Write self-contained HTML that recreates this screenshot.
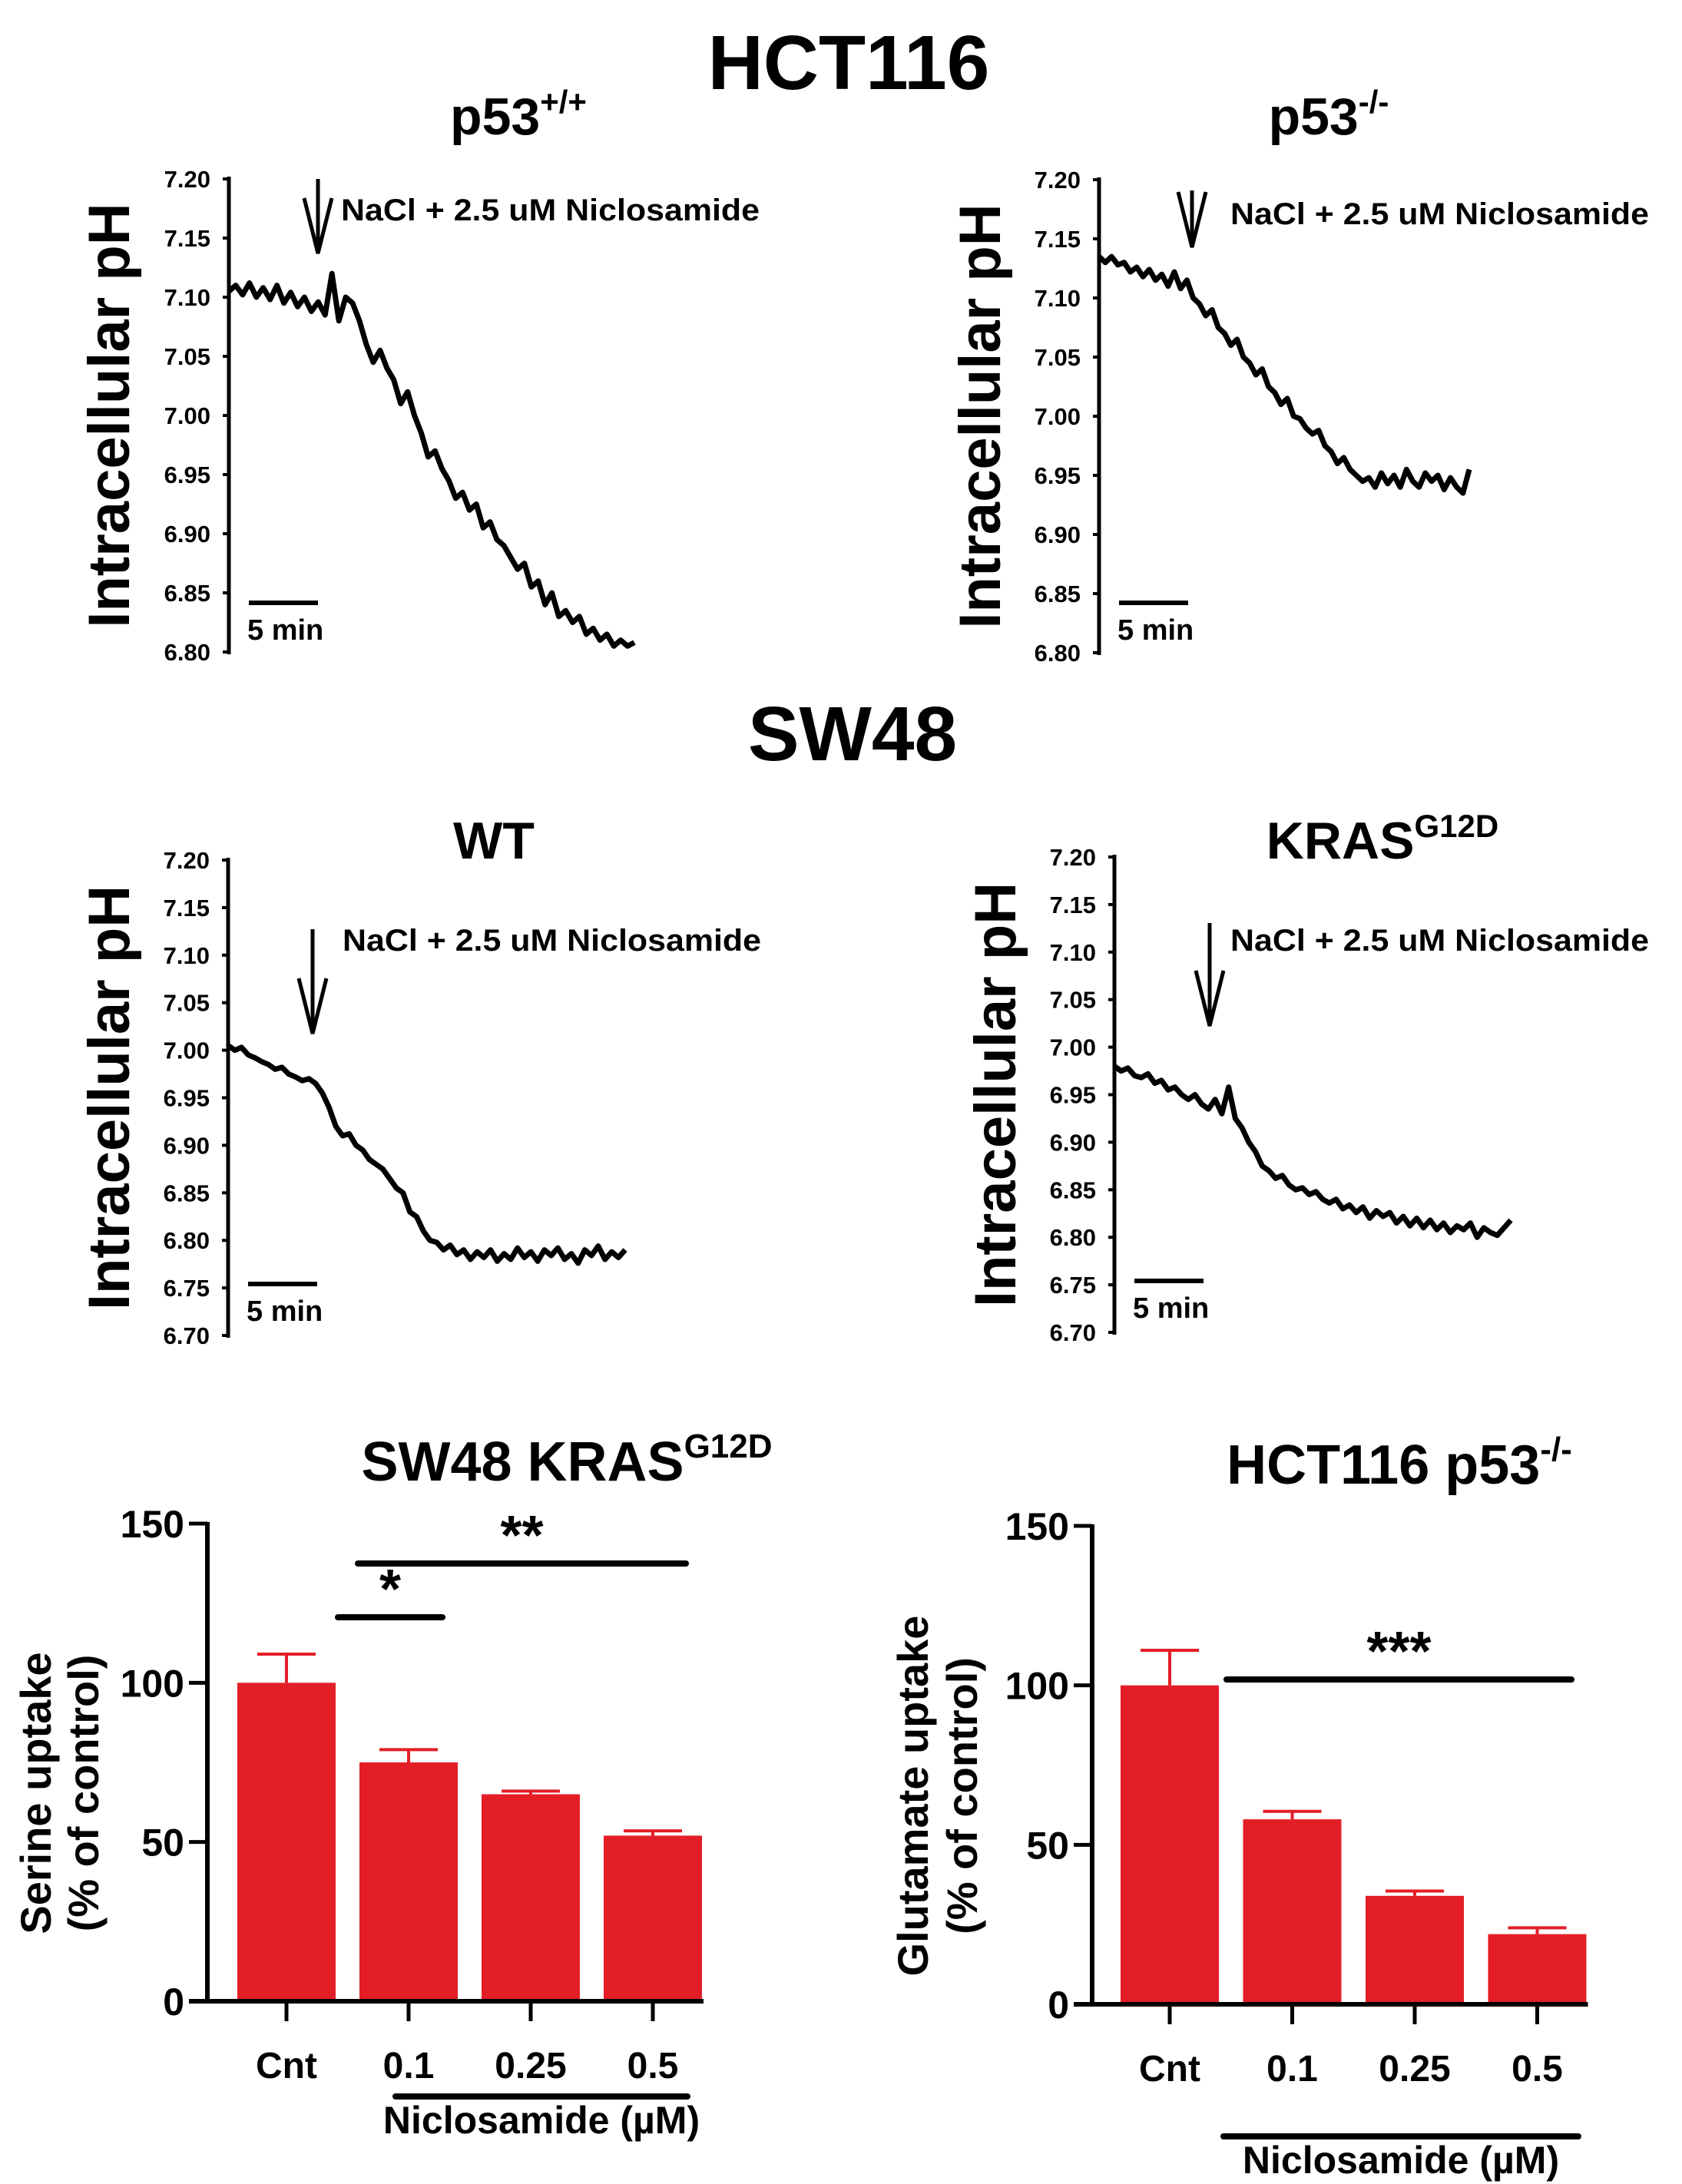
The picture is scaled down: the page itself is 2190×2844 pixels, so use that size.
<!DOCTYPE html>
<html><head><meta charset="utf-8"><style>
html,body{margin:0;padding:0;background:#fff;}
svg{display:block;font-family:"Liberation Sans",Arial,sans-serif;font-weight:bold;}
</style></head><body>
<svg id="fig" width="2190" height="2844" viewBox="0 0 2190 2844" xmlns="http://www.w3.org/2000/svg"></svg>
<script>
// ---- trace data (pH values, evenly sampled over time) ----
const traceA = [7.105,7.11,7.102,7.112,7.10,7.108,7.098,7.11,7.095,7.104,7.092,7.10,7.088,7.096,7.085,7.12,7.08,7.10,7.095,7.08,7.06,7.045,7.055,7.04,7.03,7.01,7.02,7.0,6.985,6.965,6.97,6.955,6.945,6.93,6.935,6.92,6.925,6.905,6.91,6.895,6.89,6.88,6.87,6.875,6.855,6.86,6.84,6.85,6.83,6.835,6.825,6.83,6.815,6.82,6.81,6.815,6.805,6.81,6.805,6.808];
const traceB = [7.135,7.13,7.135,7.128,7.13,7.122,7.126,7.118,7.124,7.115,7.12,7.11,7.122,7.108,7.115,7.10,7.095,7.085,7.09,7.075,7.07,7.06,7.065,7.05,7.045,7.035,7.04,7.025,7.02,7.01,7.015,7.0,6.998,6.99,6.985,6.988,6.975,6.97,6.96,6.965,6.955,6.95,6.945,6.948,6.94,6.952,6.943,6.95,6.94,6.955,6.945,6.94,6.952,6.945,6.95,6.938,6.948,6.94,6.935,6.955];
const traceC = [7.005,7.0,7.003,6.995,6.992,6.988,6.985,6.98,6.982,6.975,6.972,6.968,6.97,6.965,6.955,6.94,6.92,6.91,6.912,6.9,6.895,6.885,6.88,6.875,6.865,6.855,6.85,6.83,6.825,6.81,6.8,6.798,6.79,6.795,6.785,6.79,6.78,6.788,6.782,6.79,6.778,6.786,6.78,6.792,6.782,6.788,6.778,6.79,6.784,6.792,6.78,6.786,6.776,6.79,6.784,6.794,6.78,6.788,6.782,6.79];
const traceD = [6.98,6.975,6.978,6.97,6.968,6.972,6.962,6.965,6.955,6.958,6.95,6.945,6.95,6.94,6.935,6.945,6.93,6.958,6.925,6.915,6.9,6.89,6.875,6.87,6.862,6.865,6.855,6.85,6.852,6.845,6.848,6.84,6.836,6.84,6.83,6.834,6.826,6.832,6.82,6.828,6.822,6.826,6.815,6.822,6.812,6.82,6.81,6.818,6.808,6.815,6.805,6.812,6.808,6.815,6.8,6.81,6.805,6.802,6.81,6.818];
const ticksTop = ["7.20","7.15","7.10","7.05","7.00","6.95","6.90","6.85","6.80"];
const ticksBot = ["7.20","7.15","7.10","7.05","7.00","6.95","6.90","6.85","6.80","6.75","6.70"];
// ---- bar data ----
const barCats = ["Cnt","0.1","0.25","0.5"];
const serineVals = [100,75,65,52];
const serineErr = [9,4,1,1.5];
const glutVals = [100,58,34,22];
const glutErr = [11,2.5,1.5,2];
const barTicks = ["0","50","100","150"];

const NS="http://www.w3.org/2000/svg";
const svg=document.getElementById('fig');
function mk(tag,attrs,parent){const e=document.createElementNS(NS,tag);for(const k in attrs)e.setAttribute(k,attrs[k]);(parent||svg).appendChild(e);return e;}
function txt(s,attrs,parent){const e=mk('text',attrs,parent);e.textContent=s;return e;}

let t;
t=txt("HCT116",{x:1105,y:116,'font-size':100,'text-anchor':'middle'});

t=txt("SW48",{x:1110,y:990,'font-size':100,'text-anchor':'middle'});


function tracePanel(o){
  const g=mk('g',{});
  
  const y=v=>o.y0+(o.vmax-v)/(o.vmax-o.vmin)*(o.y1-o.y0);
  const tt=txt(o.title,{x:o.tx,y:o.ty,'font-size':68,'text-anchor':'middle'},g);
  
  if(o.sup){const s=mk('tspan',{'font-size':42,dy:-28},tt);s.textContent=o.sup;}
  const yt=txt("Intracellular pH",{x:0,y:0,'font-size':76,'text-anchor':'middle',transform:`translate(${o.ytx},${(o.y0+o.y1)/2}) rotate(-90)`},g);
  
  const ax=mk('line',{x1:o.ax,y1:o.y0-3,x2:o.ax,y2:o.y1+3,stroke:'#000','stroke-width':5},g);
  
  o.ticks.forEach(l=>{
    const v=parseFloat(l),yy=y(v);
    const tk=mk('line',{x1:o.ax-8,y1:yy,x2:o.ax,y2:yy,stroke:'#000','stroke-width':4},g);
    
    const tl=txt(l,{x:o.ax-24,y:yy+11,'font-size':31,'text-anchor':'end'},g);
    
  });
  const n=o.data.length;
  const pts=o.data.map((v,i)=>`${(o.ax+(o.xe-o.ax)*i/(n-1)).toFixed(1)},${y(v).toFixed(1)}`).join(' ');
  const pl=mk('polyline',{points:pts,fill:'none',stroke:'#000','stroke-width':7,'stroke-linejoin':'round'},g);
  
  const ar=mk('path',{d:`M${o.arx},${o.ary0} L${o.arx},${o.ary1} M${o.arx-18},${o.ary1-72} L${o.arx},${o.ary1} L${o.arx+18},${o.ary1-72}`,fill:'none',stroke:'#000','stroke-width':5},g);
  
  const an=txt("NaCl + 2.5 uM Niclosamide",{x:o.anx,y:o.any,'font-size':40,textLength:545,lengthAdjust:'spacingAndGlyphs'},g);
  
  const sb=mk('line',{x1:o.ax+26,y1:o.sby,x2:o.ax+116,y2:o.sby,stroke:'#000','stroke-width':6},g);
  
  const sl=txt("5 min",{x:o.ax+24,y:o.sby+48,'font-size':38},g);
  
}
tracePanel({name:'panel-hct116-p53wt',title:'p53',sup:'+/+',tx:675,ty:175,ytx:168,ax:298,y0:233,y1:849,vmax:7.20,vmin:6.80,ticks:ticksTop,data:traceA,xe:826,arx:414,ary0:233,ary1:330,anx:444,any:287,sby:785});
tracePanel({name:'panel-hct116-p53ko',title:'p53',sup:'-/-',tx:1730,ty:175,ytx:1302,ax:1431,y0:234,y1:850,vmax:7.20,vmin:6.80,ticks:ticksTop,data:traceB,xe:1913,arx:1552,ary0:248,ary1:322,anx:1602,any:292,sby:785});
tracePanel({name:'panel-sw48-wt',title:'WT',tx:643,ty:1118,ytx:168,ax:297,y0:1120,y1:1739,vmax:7.20,vmin:6.70,ticks:ticksBot,data:traceC,xe:814,arx:407,ary0:1210,ary1:1346,anx:446,any:1238,sby:1672});
tracePanel({name:'panel-sw48-kras',title:'KRAS',sup:'G12D',tx:1800,ty:1118,ytx:1322,ax:1451,y0:1116,y1:1735,vmax:7.20,vmin:6.70,ticks:ticksBot,data:traceD,xe:1967,arx:1575,ary0:1202,ary1:1336,anx:1602,any:1238,sby:1668});

function barPanel(o){
  const g=mk('g',{});
  
  const y=v=>o.y1-(v/150)*(o.y1-o.y0);
  const xc=i=>o.x0+o.step*i;
  const tt=txt(o.title,{x:o.tx,y:o.ty,'font-size':72,'text-anchor':'middle'},g);
  
  const s=mk('tspan',{'font-size':44,dy:-30},tt);s.textContent=o.sup;
  o.ylab.forEach((l,i)=>{
    const yt=txt(l,{x:0,y:0,'font-size':56,'text-anchor':'middle',transform:`translate(${o.ytx[i]},${(o.y0+o.y1)/2+40}) rotate(-90)`},g);
    
  });
  o.vals.forEach((v,i)=>{
    const b=mk('rect',{x:xc(i)-64,y:y(v),width:128,height:o.y1-y(v),fill:'#e31e26'},g);
    
    const e=mk('path',{d:`M${xc(i)},${y(v)} V${y(v+o.err[i])} M${xc(i)-38},${y(v+o.err[i])} H${xc(i)+38}`,stroke:'#e31e26','stroke-width':4,fill:'none'},g);
    
    const tk=mk('line',{x1:xc(i),y1:o.y1,x2:xc(i),y2:o.y1+26,stroke:'#000','stroke-width':5},g);
    
    const tl=txt(barCats[i],{x:xc(i),y:o.y1+100,'font-size':48,'text-anchor':'middle'},g);
    
  });
  const ya=mk('line',{x1:o.ax,y1:o.y0-2,x2:o.ax,y2:o.y1+2,stroke:'#000','stroke-width':6},g);
  
  const xa=mk('line',{x1:o.ax-24,y1:o.y1,x2:xc(3)+66,y2:o.y1,stroke:'#000','stroke-width':6},g);
  
  barTicks.forEach(l=>{
    const yy=y(parseFloat(l));
    const tk=mk('line',{x1:o.ax-24,y1:yy,x2:o.ax,y2:yy,stroke:'#000','stroke-width':5},g);
    
    const tl=txt(l,{x:o.ax-30,y:yy+18,'font-size':50,'text-anchor':'end'},g);
    
  });
  o.sig.forEach(sg=>{
    const ln=mk('line',{x1:sg.x1,y1:sg.y,x2:sg.x2,y2:sg.y,stroke:'#000','stroke-width':8,'stroke-linecap':'round'},g);
    
    const st=txt(sg.s,{x:(sg.x1+sg.x2)/2,y:sg.y-12,'font-size':72,'text-anchor':'middle'},g);
    
  });
  const ul=mk('line',{x1:o.ulx1,y1:o.uly,x2:o.ulx2,y2:o.uly,stroke:'#000','stroke-width':8,'stroke-linecap':'round'},g);
  
  const xl=txt("Niclosamide (\u00B5M)",{x:(o.ulx1+o.ulx2)/2,y:o.uly+48,'font-size':50,'text-anchor':'middle'},g);
  
}
barPanel({name:'serine-uptake-chart',title:'SW48 KRAS',sup:'G12D',tx:738,ty:1928,ytx:[66,128],ylab:['Serine uptake','(% of control)'],ax:270,y0:1984,y1:2606,x0:373,step:159,vals:serineVals,err:serineErr,
  sig:[{x1:440,x2:576,y:2106,s:'*'},{x1:466,x2:893,y:2036,s:'**'}],ulx1:515,ulx2:895,uly:2730});
barPanel({name:'glutamate-uptake-chart',title:'HCT116 p53',sup:'-/-',tx:1822,ty:1932,ytx:[1208,1272],ylab:['Glutamate uptake','(% of control)'],ax:1422,y0:1987,y1:2610,x0:1523,step:159.5,vals:glutVals,err:glutErr,
  sig:[{x1:1597,x2:2046,y:2187,s:'***'}],ulx1:1593,ulx2:2055,uly:2782});
</script>
</body></html>
